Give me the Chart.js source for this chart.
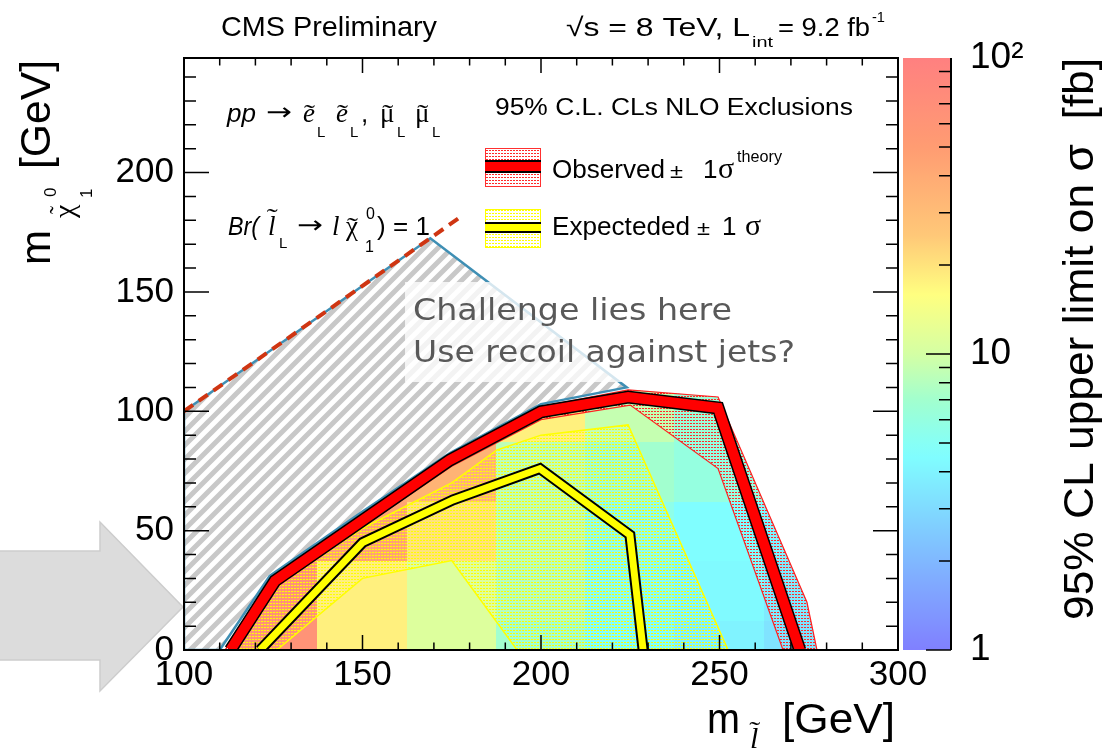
<!DOCTYPE html>
<html>
<head>
<meta charset="utf-8">
<script src="https://cdn.jsdelivr.net/npm/chart.js@4.4.0/dist/chart.umd.min.js"></script>
<style>
  html, body { margin: 0; padding: 0; background: #fff; }
</style>
</head>
<body>
<canvas id="chart-limit" width="1106" height="754"></canvas>
<script>
// heatmap cell centres (GeV)
var massX = [125, 150, 175, 200, 225, 250, 275];
var massY = [0, 25, 50, 75, 100];
// 95% CL upper limit on sigma [fb], one row per massY
var limitGrid = [
  [63, 18, 11, 7, 4.6, 4.0, 3.3],
  [63, 18, 11, 8, 5.0, 4.3, 3.6],
  [55, 45, 20, 8.5, 5.5, 4.5, 4.0],
  [45, 40, 35, 8.5, 7.0, 6.0, 5.0],
  [35, 30, 28, 18, 9.0, 6.5, 6.0]
];
var xTicks = [100, 150, 200, 250, 300];
var yTicks = [0, 50, 100, 150, 200];
var zTicks = [1, 10, 100];

// contours [m_slepton, m_chi]
var observed = [[113, 0], [125.5, 29], [150.2, 54.5], [174.5, 79.6], [200, 99.8], [224.4, 106], [249.6, 101.4], [272.5, 0]];
var observedUp = [[111.5, 0], [124.5, 31.5], [150, 57], [174.5, 82], [200, 102], [224.4, 109], [249.6, 106], [274.5, 20], [277.3, 0]];
var observedDown = [[114.5, 0], [126.5, 27], [150.5, 52], [175, 77], [200, 96.5], [225, 102.6], [249.6, 76], [267.8, 0]];
var expected = [[121.3, 0], [150, 45], [175.4, 62.9], [199.7, 76], [224.9, 48.2], [228.6, 0]];
var expectedUp = [[114, 0], [126, 28], [150, 51], [175, 70], [187.7, 83.8], [200, 90], [224.4, 94.3], [252.4, 0]];
var expectedDown = [[126, 0], [150, 30], [175, 37.5], [193.3, 0]];
var challenge = [[100, 0], [100, 100], [169, 172.5], [224, 110], [200, 103], [174.5, 82.5], [150, 58], [124, 31], [110, 0]];
var diagonal = [[100, 100], [178, 182]];

var palette = [
  [0, [128, 128, 255]], [0.17, [128, 191, 255]], [0.33, [128, 255, 255]], [0.42, [160, 255, 208]],
  [0.5, [212, 255, 164]], [0.6, [255, 255, 128]], [0.7, [255, 200, 120]], [0.85, [255, 156, 114]], [1, [255, 128, 128]]
];

var SANS = "'Liberation Sans', Arial, sans-serif";
var SERIF = "'Liberation Serif', 'Times New Roman', serif";

function paletteColor(t) {
  t = Math.max(0, Math.min(1, t));
  for (var i = 1; i < palette.length; i++) {
    if (t <= palette[i][0]) {
      var a = palette[i - 1], b = palette[i];
      var f = (t - a[0]) / (b[0] - a[0]);
      var c = a[1].map(function (v, k) { return Math.round(v + (b[1][k] - v) * f); });
      return "rgb(" + c.join(",") + ")";
    }
  }
  return "rgb(255,128,128)";
}

function xy(arr) {
  return arr.map(function (p) { return { x: p[0], y: p[1] }; });
}

function closed(arr) {
  return arr.concat([arr[0]]);
}

var ctx = document.getElementById("chart-limit").getContext("2d");

function makePattern(w, h, draw) {
  var c = document.createElement("canvas");
  c.width = w;
  c.height = h;
  draw(c.getContext("2d"));
  return ctx.createPattern(c, "repeat");
}

var redDots = makePattern(3, 3, function (g) {
  g.fillStyle = "#ff2a2a";
  g.fillRect(0, 0, 2, 1);
});
var yellowDots = makePattern(3, 3, function (g) {
  g.fillStyle = "#ffff00";
  g.fillRect(0, 0, 2, 1);
});
var stripes = makePattern(14, 14, function (g) {
  g.strokeStyle = "#c8c8c8";
  g.lineWidth = 5;
  g.beginPath();
  g.moveTo(-1, 15); g.lineTo(15, -1);
  g.moveTo(-8, 8); g.lineTo(8, -8);
  g.moveTo(6, 22); g.lineTo(22, 6);
  g.stroke();
});

function txt(s, x, y, font, color, opts) {
  opts = opts || {};
  ctx.save();
  ctx.font = font;
  ctx.fillStyle = color || "#000";
  ctx.textAlign = "left";
  ctx.textBaseline = "alphabetic";
  ctx.translate(x, y);
  if (opts.w) {
    var m = ctx.measureText(s).width;
    ctx.scale(opts.w / m, 1);
  }
  ctx.fillText(s, 0, 0);
  ctx.restore();
}

// letter with a tilde drawn above it
function tilded(s, x, y, font, lift) {
  txt(s, x, y, font);
  ctx.save();
  ctx.font = font;
  var w = ctx.measureText(s).width;
  ctx.restore();
  txt("˜", x + w * 0.5 - 5, y - (lift || 0), "26px " + SERIF, "#000", { w: 11 });
}

function polyPath(c, pts, xs, ys) {
  pts.forEach(function (p, i) {
    var px = xs.getPixelForValue(p[0]), py = ys.getPixelForValue(p[1]);
    if (i === 0) c.moveTo(px, py); else c.lineTo(px, py);
  });
}

var backdropPlugin = {
  id: "backdrop",
  beforeDraw: function (chart) {
    var c = chart.ctx;
    c.save();
    c.fillStyle = "#dcdcdc";
    c.strokeStyle = "#cdcdcd";
    c.lineWidth = 1.5;
    c.beginPath();
    c.moveTo(-2, 551); c.lineTo(100, 551); c.lineTo(100, 522); c.lineTo(183, 607);
    c.lineTo(100, 691); c.lineTo(100, 660); c.lineTo(-2, 660);
    c.closePath();
    c.fill();
    c.stroke();
    c.restore();
  },
  beforeDatasetsDraw: function (chart) {
    var c = chart.ctx, xs = chart.scales.x, ys = chart.scales.y, a = chart.chartArea;
    c.save();
    c.beginPath();
    c.rect(a.left, a.top, a.right - a.left, a.bottom - a.top);
    c.clip();
    c.beginPath();
    polyPath(c, observedUp, xs, ys);
    c.lineTo(xs.getPixelForValue(observedUp[observedUp.length - 1][0]), a.bottom + 20);
    c.lineTo(xs.getPixelForValue(observedUp[0][0]), a.bottom + 20);
    c.closePath();
    c.clip();
    massY.forEach(function (my, j) {
      massX.forEach(function (mx, i) {
        var x0 = xs.getPixelForValue(mx - 12.5), x1 = xs.getPixelForValue(mx + 12.5);
        var y0 = ys.getPixelForValue(my + 12.5), y1 = ys.getPixelForValue(my - 12.5);
        c.fillStyle = paletteColor(Math.log10(limitGrid[j][i]) / 2);
        c.fillRect(Math.floor(x0), Math.floor(y0), Math.ceil(x1 - x0) + 1, Math.ceil(y1 - y0) + 1);
      });
    });
    c.restore();
  }
};

var framePlugin = {
  id: "frame",
  afterDatasetsDraw: function (chart) {
    var c = chart.ctx, xs = chart.scales.x, ys = chart.scales.y, a = chart.chartArea;
    // annotation box
    c.save();
    c.fillStyle = "rgba(255,255,255,0.78)";
    c.fillRect(405, 282, 425, 100);
    c.restore();
    txt("Challenge lies here", 413, 320, "30px 'DejaVu Sans'", "#595959", { w: 319 });
    txt("Use recoil against jets?", 413, 362, "30px 'DejaVu Sans'", "#595959", { w: 382 });

    c.save();
    c.strokeStyle = "#000";
    c.lineWidth = 2;
    c.strokeRect(a.left, a.top, a.right - a.left, a.bottom - a.top);
    c.lineWidth = 1.5;
    c.beginPath();
    for (var v = 100; v <= 300; v += 10) {
      var px = xs.getPixelForValue(v);
      var len = v % 50 === 0 ? 15 : 7.5;
      c.moveTo(px, a.bottom); c.lineTo(px, a.bottom - len);
      c.moveTo(px, a.top); c.lineTo(px, a.top + len);
    }
    for (var w = 0; w <= 240; w += 10) {
      var py = ys.getPixelForValue(w);
      var l2 = w % 50 === 0 ? 25 : 12;
      c.moveTo(a.left, py); c.lineTo(a.left + l2, py);
      c.moveTo(a.right, py); c.lineTo(a.right - l2, py);
    }
    c.stroke();
    c.restore();
  },
  afterDraw: function (chart) {
    var c = chart.ctx, zs = chart.scales.z;
    // colour bar
    var top = zs.getPixelForValue(100), bottom = zs.getPixelForValue(1);
    var grad = c.createLinearGradient(0, bottom, 0, top);
    for (var i = 0; i <= 40; i++) grad.addColorStop(i / 40, paletteColor(i / 40));
    c.save();
    c.fillStyle = grad;
    c.fillRect(903, top, 48, bottom - top);
    c.strokeStyle = "#000";
    c.lineWidth = 2;
    c.beginPath();
    c.moveTo(951, top); c.lineTo(951, bottom);
    c.stroke();
    c.lineWidth = 1.5;
    c.beginPath();
    [1, 10].forEach(function (dec) {
      for (var k = 1; k <= 9; k++) {
        var val = dec * k;
        if (val > 100) continue;
        var py = zs.getPixelForValue(val);
        var len = zTicks.indexOf(val) >= 0 ? 25 : 12;
        c.moveTo(951, py); c.lineTo(951 - len, py);
      }
    });
    c.stroke();
    c.restore();

    // colour bar title
    c.save();
    c.translate(1093, 620);
    c.rotate(-Math.PI / 2);
    c.font = "42px " + SANS;
    var t = "95% CL upper limit on σ  [fb]";
    var m = c.measureText(t).width;
    c.scale(562 / m, 1);
    c.fillStyle = "#000";
    c.fillText(t, 0, 0);
    c.restore();

    // y title
    c.save();
    c.translate(50, 265);
    c.rotate(-Math.PI / 2);
    c.fillStyle = "#000";
    c.font = "42px " + SANS;
    c.fillText("m", 0, 0);
    c.font = "30px " + SERIF;
    c.fillText("χ", 47, 24);
    c.font = "24px " + SERIF;
    c.fillText("˜", 51, 16);
    c.font = "17px " + SANS;
    c.fillText("0", 68, 6);
    c.fillText("1", 67, 42);
    c.font = "42px " + SANS;
    var g = c.measureText("[GeV]").width;
    c.translate(96, 0);
    c.scale(109 / g, 1);
    c.fillText("[GeV]", 0, 0);
    c.restore();

    // x title
    txt("m", 707, 733, "42px " + SANS, "#000", { w: 33 });
    tilded("l", 750, 748, "italic 30px " + SERIF, 9);
    txt("[GeV]", 782, 733, "42px " + SANS, "#000", { w: 113 });

    // header
    txt("CMS Preliminary", 221, 36, "28px " + SANS, "#000", { w: 216 });
    txt("√s = 8 TeV, L", 566, 36, "26px " + SANS, "#000", { w: 184 });
    txt("int", 752, 47, "15px " + SANS, "#000", { w: 21 });
    txt("= 9.2 fb", 778, 36, "26px " + SANS, "#000", { w: 92 });
    txt("-1", 872, 22, "15px " + SANS, "#000", { w: 13 });

    // process labels
    var it = "italic 26px " + SANS, sr = "italic 27px " + SERIF, sub = "15px " + SANS;
    txt("pp", 227, 122, it);
    txt("→", 266, 120, "24px 'DejaVu Sans'", "#000", { w: 26 });
    tilded("e", 303, 122, sr, 0);
    txt("L", 317, 137, sub);
    tilded("e", 336, 122, sr, 0);
    txt("L", 350, 137, sub);
    txt(",", 361, 122, "26px " + SANS);
    tilded("μ", 380, 122, "27px " + SERIF, 0);
    txt("L", 397, 137, sub);
    tilded("μ", 415, 122, "27px " + SERIF, 0);
    txt("L", 432, 137, sub);

    txt("Br(", 228, 235, it, "#000", { w: 31 });
    tilded("l", 268, 235, sr, 9);
    txt("L", 279, 248, sub);
    txt("→", 297, 233, "24px 'DejaVu Sans'", "#000", { w: 26 });
    txt("l", 332, 235, sr);
    tilded("χ", 346, 235, "27px " + SERIF, 0);
    txt("0", 366, 219, "16px " + SANS);
    txt("1", 365, 252, "16px " + SANS);
    txt(")", 377, 235, "26px " + SANS);
    txt("= 1", 393, 235, "26px " + SANS);

    // legend
    txt("95% C.L. CLs NLO Exclusions", 495, 115, "23px " + SANS, "#000", { w: 358 });
    c.save();
    c.fillStyle = redDots;
    c.fillRect(485, 148, 55, 38);
    c.strokeStyle = "#ff3030";
    c.lineWidth = 1;
    c.strokeRect(485.5, 148.5, 55, 38);
    c.fillStyle = "#000";
    c.fillRect(485, 160, 56, 13);
    c.fillStyle = "#ff0000";
    c.fillRect(485, 162, 56, 9);
    c.fillStyle = yellowDots;
    c.fillRect(485, 209, 55, 38);
    c.strokeStyle = "#ffff00";
    c.strokeRect(485.5, 209.5, 55, 38);
    c.fillStyle = "#000";
    c.fillRect(485, 222, 56, 11);
    c.fillStyle = "#ffff00";
    c.fillRect(485, 224, 56, 7);
    c.restore();
    txt("Observed", 552, 178, "26px " + SANS, "#000", { w: 113 });
    txt("±", 670, 178, "20px " + SANS, "#000", { w: 13 });
    txt("1", 703, 178, "26px " + SANS);
    txt("σ", 718, 178, "30px " + SERIF);
    txt("theory", 737, 162, "16px " + SANS, "#000", { w: 45 });
    txt("Expecteded", 552, 235, "26px " + SANS, "#000", { w: 138 });
    txt("±", 697, 235, "20px " + SANS, "#000", { w: 13 });
    txt("1", 722, 235, "26px " + SANS);
    txt("σ", 745, 235, "30px " + SERIF);
  }
};

function lineSet(points, color, width, extra) {
  var ds = {
    data: xy(points),
    showLine: true,
    borderColor: color,
    borderWidth: width,
    pointRadius: 0,
    fill: false,
    tension: 0,
    clip: 0
  };
  for (var k in extra) ds[k] = extra[k];
  return ds;
}

function fixedTicks(list) {
  return function (s) {
    s.ticks = list.map(function (v) { return { value: v }; });
  };
}

new Chart(ctx, {
  type: "scatter",
  data: {
    datasets: [
      lineSet(diagonal, "#cf3512", 4, { borderDash: [11, 7] }),
      lineSet(observed, "#ff0000", 10),
      lineSet(observed, "#000000", 13),
      lineSet(expected, "#ffff00", 7),
      lineSet(expected, "#000000", 11),
      lineSet(closed(challenge), "#3f8fb4", 2.5, { fill: "shape", backgroundColor: stripes }),
      lineSet(closed(observedUp.concat(observedDown.slice().reverse())), "#ff2020", 1.2, { fill: "shape", backgroundColor: redDots }),
      lineSet(closed(expectedUp.concat(expectedDown.slice().reverse())), "#ffff00", 1.5, { fill: "shape", backgroundColor: yellowDots })
    ]
  },
  options: {
    responsive: false,
    animation: false,
    layout: { padding: { top: 58, left: 0, right: 0, bottom: 0 } },
    plugins: { legend: { display: false }, tooltip: { enabled: false } },
    scales: {
      x: {
        type: "linear",
        min: 100,
        max: 300,
        grid: { display: false, drawTicks: false },
        border: { display: false },
        ticks: { maxRotation: 0, autoSkip: false, padding: 4, color: "#000", font: { family: SANS, size: 35 } },
        afterBuildTicks: fixedTicks(xTicks),
        afterFit: function (s) { s.height = 104; }
      },
      y: {
        type: "linear",
        min: 0,
        max: 248,
        grid: { display: false, drawTicks: true, tickLength: 8 },
        border: { display: false },
        ticks: { autoSkip: false, padding: 2, color: "#000", font: { family: SANS, size: 35 } },
        afterBuildTicks: fixedTicks(yTicks),
        afterFit: function (s) { s.width = 184; }
      },
      z: {
        type: "logarithmic",
        position: "right",
        axis: "y",
        min: 1,
        max: 100,
        grid: { display: false, drawTicks: true, tickLength: 70 },
        border: { display: false },
        ticks: {
          padding: 2,
          autoSkip: false,
          color: "#000",
          font: { family: SANS, size: 37 },
          callback: function (v) { return v === 100 ? "10²" : String(v); }
        },
        afterBuildTicks: fixedTicks(zTicks),
        afterFit: function (s) { s.width = 208; }
      }
    }
  },
  plugins: [backdropPlugin, framePlugin]
});
</script>
</body>
</html>
